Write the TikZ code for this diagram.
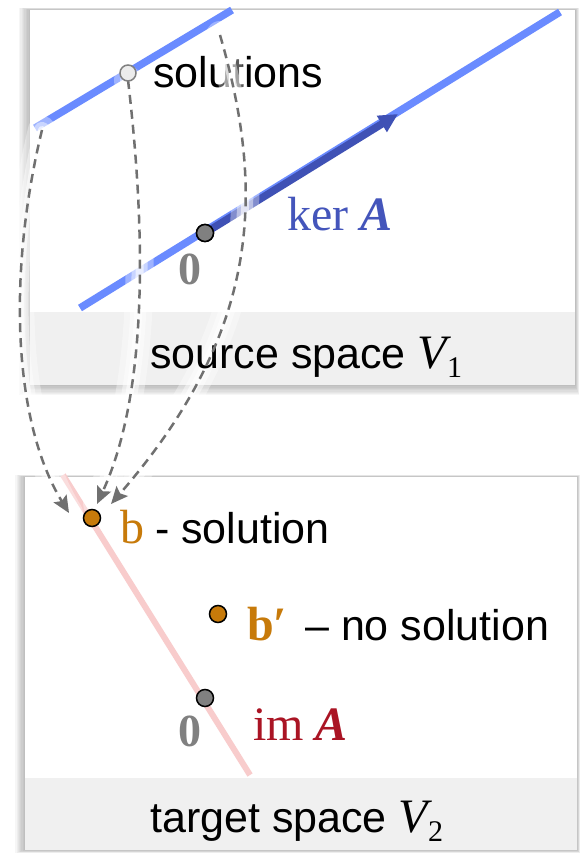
\documentclass[tikz,border=0pt]{standalone}
\usepackage{fontspec}
\newfontfamily\sansf{Liberation Sans}
\newfontfamily\serf{Liberation Serif}
\usetikzlibrary{arrows.meta}
\definecolor{lblue}{HTML}{6A8BFF}
\definecolor{dblue}{HTML}{3F51B5}
\definecolor{kercol}{HTML}{4455BB}
\definecolor{orng}{HTML}{C77A0A}
\definecolor{imred}{HTML}{AA1424}
\definecolor{pinkl}{HTML}{F8CCCC}
\definecolor{band}{HTML}{F0F0F0}
\definecolor{dashgray}{HTML}{707070}
\definecolor{zgray}{HTML}{808080}
\newcommand{\vsub}[1]{{\serf\itshape\fontsize{48}{50}\selectfont V}\raisebox{-9pt}{\serf\fontsize{30}{32}\selectfont #1}}
\tikzset{
  sanstxt/.style={font=\sansf\fontsize{43}{48}\selectfont, inner sep=0pt},
  serftxt/.style={font=\serf\fontsize{48}{52}\selectfont, inner sep=0pt},
  zerotxt/.style={font=\serf\bfseries\fontsize{46}{48}\selectfont, inner sep=0pt, text=zgray},
  haloA/.style={white, line width=28pt, opacity=0.35, line cap=round},
  haloB/.style={white, line width=16pt, opacity=0.45, line cap=round},
  haloC/.style={white, line width=8pt, opacity=0.6, line cap=round},
  dashc/.style={draw=dashgray, line width=2.5pt, dash pattern=on 9pt off 6pt, -{Stealth[length=17pt,width=15pt,inset=3pt]}},
  dotpt/.style={circle, draw=black, line width=1.5pt, minimum size=17pt, inner sep=0pt},
}
\begin{document}
\begin{tikzpicture}[x=1pt,y=-1pt]
\useasboundingbox (0,0) rectangle (581,853);
% panel shadows
\foreach \i in {1,...,8}{
  \fill[black,opacity=0.035] (30-1.4*\i,10-0.3*\i) rectangle (575+0.5*\i,385+1.3*\i);
  \fill[black,opacity=0.035] (25-1.2*\i,477-0.3*\i) rectangle (577+0.4*\i,850+0.4*\i);
}
% top panel
\fill[white] (30,10) rectangle (575,312);
\fill[band] (30,312) rectangle (575,385);
% bottom panel
\fill[white] (25,477) rectangle (577,778);
\fill[band] (25,778) rectangle (577,850);

% top panel lines
\coordinate (sA) at (35,128);
\coordinate (sB) at (232,10);
\coordinate (kA) at (80,308);
\coordinate (kB) at (560,12);
\coordinate (kT) at (398,114);
\draw[lblue, line width=7.5pt] (sA) -- (sB);
\draw[lblue, line width=7.5pt] (kA) -- (kB);
\node[dotpt, fill=zgray] (zero1) at (205,233) {};
\draw[dblue, line width=7.5pt, -{Triangle[length=19pt,width=18pt]}] (zero1.center) -- (kT);

% bottom line
\coordinate (iA) at (63,475);
\coordinate (iB) at (250,775);
\draw[pinkl, line width=6pt] (iA) -- (iB);

% texts (under halos)
\node[sanstxt, anchor=base west] (soltxt) at (153,88) {solutions};
\node[serftxt, anchor=base west, text=kercol] (kertxt) at (287,230) {ker {\bfseries\itshape A}};
\node[zerotxt, anchor=center] (z1txt) at (190,269) {0};

% dashed curves
\coordinate (d1s) at (42,130);
\coordinate (d2s) at (128,80);
\coordinate (d3s) at (220,35);
\coordinate (d1e) at (69,513);
\coordinate (d2e) at (97,504);
\coordinate (d3e) at (111,504);
\foreach \h in {haloA,haloB,haloC}{
  \draw[\h] (d1s) .. controls (8,270) and (12,420) .. (d1e);
  \draw[\h] (d2s) .. controls (148,250) and (145,400) .. (d2e);
  \draw[\h] (d3s) .. controls (265,190) and (262,330) .. (d3e);
}
\node[sanstxt, anchor=base west] (srctxt) at (150,368) {source space \vsub{1}};
\draw[dashc] (d1s) .. controls (8,270) and (12,420) .. (d1e);
\draw[dashc] (d2s) .. controls (148,250) and (145,400) .. (d2e);
\draw[dashc] (d3s) .. controls (265,190) and (262,330) .. (d3e);

% bottom texts
\node[serftxt, anchor=base west, text=orng] (btxt) at (120,543) {b};
\node[sanstxt, anchor=base west] (bsol) at (155,543) {- solution};
\node[serftxt, anchor=base west, text=orng] (bptxt) at (247,640) {\bfseries b′};
\node[sanstxt, anchor=base west] (bpsol) at (305,640) {– no solution};
\node[zerotxt, anchor=center] (z2txt) at (190,731) {0};
\node[serftxt, anchor=base west, text=imred] (imtxt) at (253,740) {im {\bfseries\itshape A}};
\node[sanstxt, anchor=base west] (tgttxt) at (150,832) {target space \vsub{2}};

% points
\node[dotpt, draw=zgray, fill=gray!15, minimum size=16pt] (solpt) at (128,73) {};
\node[dotpt, fill=zgray] at (zero1) {};
\node[dotpt, fill=orng] (bpt) at (92,518) {};
\node[dotpt, fill=orng] (bppt) at (218,614) {};
\node[dotpt, fill=zgray] (zero2) at (205,698) {};
\end{tikzpicture}
\end{document}
